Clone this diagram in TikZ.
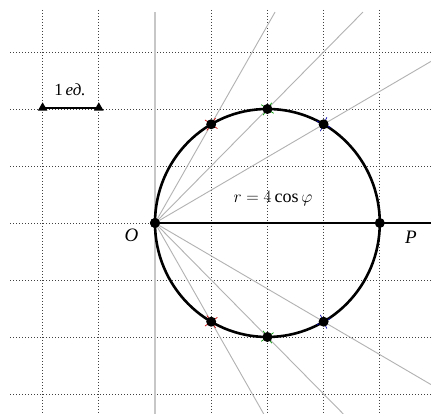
\documentclass[tikz,border=0pt]{standalone}
\usepackage{fontspec}
\setmainfont{Liberation Serif}
\usetikzlibrary{shapes.geometric,shapes.misc}
\begin{document}
\begin{tikzpicture}[x=56.2pt,y=57pt,
  gridline/.style={black!75,line width=0.9pt,dash pattern=on 1pt off 2pt},
  ray/.style={black!30,line width=0.9pt},
  thick black/.style={black,line width=2.6pt},
  dot/.style={circle,fill=black,inner sep=0pt,minimum size=10pt},
  tick/.style={cross out,draw=#1,line width=0.7pt,inner sep=0pt,minimum size=10pt},
  tri/.style={regular polygon,regular polygon sides=3,fill=black,inner sep=0pt,minimum size=11pt},
  lbl/.style={font=\fontsize{19}{19}\selectfont\itshape,inner sep=0pt}
]
\useasboundingbox (-2.758,-3.351) rectangle (4.911,3.912);
\fill[white] (-2.758,-3.351) rectangle (4.911,3.912);
% grid
\foreach \x in {-2,-1,1,2,3,4} \draw[gridline] (\x,3.737) -- (\x,-3.351);
\foreach \y in {-3,-2,-1,0,1,2,3} \draw[gridline] (-2.58,\y) -- (4.911,\y);
% grey vertical axis
\draw[black!22,line width=1.3pt] (0,3.70) -- (0,-3.351);
% named points
\node[dot] (O) at (0,0) {};
\coordinate (pa) at (1,1.732);
\coordinate (pb) at (2,2);
\coordinate (pc) at (3,1.732);
\coordinate (pd) at (1,-1.732);
\coordinate (pe) at (2,-2);
\coordinate (pf) at (3,-1.732);
\coordinate (ea) at (2.136,3.70);
\coordinate (eb) at (3.70,3.70);
\coordinate (ec) at (4.911,2.835);
\coordinate (ed) at (1.935,-3.351);
\coordinate (ee) at (3.351,-3.351);
\coordinate (ef) at (4.911,-2.835);
\coordinate (axisend) at (4.911,0);
% rays
\foreach \e in {ea,eb,ec,ed,ee,ef} \draw[ray] (O.center) -- (\e);
% polar axis and circle
\draw[thick black] (O.center) -- (axisend);
\draw[thick black] (2,0) circle [radius=2];
% ticks
\node[tick=red!80!black,rotate=10] at (pa) {};
\node[tick=red!80!black,rotate=-10] at (pd) {};
\node[tick=green!60!black,rotate=10] at (pb) {};
\node[tick=green!60!black,rotate=-10] at (pe) {};
\node[tick=blue!70!black,rotate=20] at (pc) {};
\node[tick=blue!70!black,rotate=-20] at (pf) {};
% dots
\node[dot] (O2) at (O) {};
\node[dot] (P) at (4,0) {};
\node[dot] (A) at (pa) {};
\node[dot] (B) at (pb) {};
\node[dot] (C) at (pc) {};
\node[dot] (D) at (pd) {};
\node[dot] (E) at (pe) {};
\node[dot] (F) at (pf) {};
% labels
\node[lbl] (Olbl) at (-0.418,-0.22) {O};
\node[lbl] (Plbl) at (4.555,-0.246) {P};
\node[inner sep=0pt,font=\fontsize{18}{18}\selectfont] (eq) at (2.10,0.42) {$r=4\cos\varphi$};
% unit scale bar
\node[tri] (t1) at (-2,2.02) {};
\node[tri] (t2) at (-1,2.02) {};
\draw[black,line width=2pt] (t1.center) -- (t2.center);
\node[inner sep=0pt,font=\fontsize{17}{17}\selectfont] (unit) at (-1.512,2.333) {1\,\textit{ед.}};
\end{tikzpicture}
\end{document}
